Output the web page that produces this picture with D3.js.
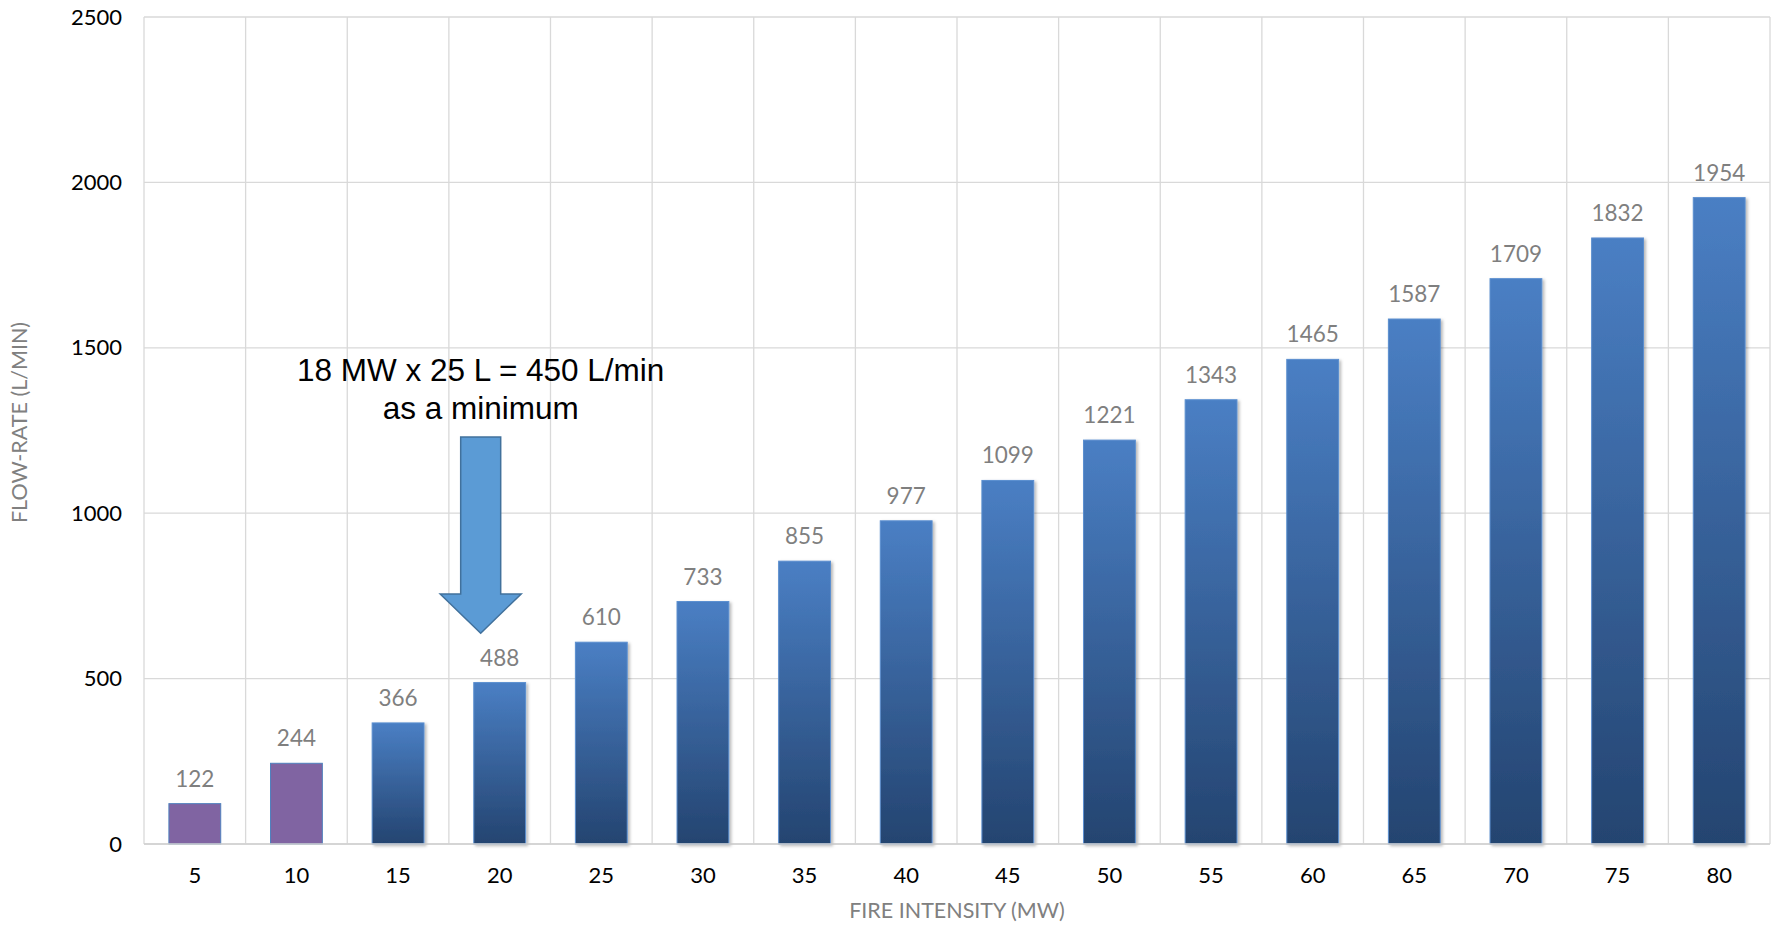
<!DOCTYPE html>
<html>
<head>
<meta charset="utf-8">
<script src="https://cdn.jsdelivr.net/npm/d3@7"></script>
<style>
  html, body { margin: 0; padding: 0; background: #fff; }
  svg { display: block; }
</style>
</head>
<body>
<svg id="chart" width="1779" height="926"></svg>
<script>
// ---- data ----
const categories = [5, 10, 15, 20, 25, 30, 35, 40, 45, 50, 55, 60, 65, 70, 75, 80];
const flowRates = [122, 244, 366, 488, 610, 733, 855, 977, 1099, 1221, 1343, 1465, 1587, 1709, 1832, 1954];
const highlighted = [5, 10];
const yTicks = [0, 500, 1000, 1500, 2000, 2500];
const xTitle = "FIRE INTENSITY (MW)";
const yTitle = "FLOW-RATE (L/MIN)";
const noteLines = ["18 MW x 25 L = 450 L/min", "as a minimum"];
// arrow annotation, in value units
const arrowTopValue = 1230, arrowHeadValue = 756, arrowTipValue = 637;

// ---- layout ----
const W = 1779, H = 926;
const m = { left: 144, top: 17, right: 9, bottom: 82 };
const svg = d3.select("#chart");
const FONT = "Lato, 'Open Sans', sans-serif";

const y = d3.scaleLinear().domain([0, 2500]).range([H - m.bottom, m.top]);
const cell = d3.scaleBand().domain(categories).range([m.left, W - m.right]).padding(0);
const x = d3.scaleBand().domain(categories).range([m.left, W - m.right])
  .paddingInner(0.49).paddingOuter(0.245);

const defs = svg.append("defs");
const grad = defs.append("linearGradient").attr("id", "barGrad")
  .attr("x1", 0).attr("y1", 0).attr("x2", 0).attr("y2", 1);
grad.append("stop").attr("offset", "0%").attr("stop-color", "#4a7fc4");
grad.append("stop").attr("offset", "100%").attr("stop-color", "#244470");
const filt = defs.append("filter").attr("id", "shadow")
  .attr("x", "-20%").attr("y", "-5%").attr("width", "150%").attr("height", "115%");
filt.append("feDropShadow").attr("dx", 2).attr("dy", 1.5).attr("stdDeviation", 1.6)
  .attr("flood-color", "#000").attr("flood-opacity", 0.28);

// ---- grid ----
const grid = svg.append("g");
grid.selectAll("line.h").data(yTicks).join("line")
  .attr("x1", m.left).attr("x2", W - m.right)
  .attr("y1", d => y(d)).attr("y2", d => y(d))
  .attr("stroke", "#d9d9d9").attr("stroke-width", 1.3);
const vb = categories.map(c => cell(c)).concat([cell(categories[categories.length - 1]) + cell.bandwidth()]);
grid.selectAll("line.v").data(vb).join("line")
  .attr("x1", d => d).attr("x2", d => d)
  .attr("y1", y(2500)).attr("y2", y(0))
  .attr("stroke", "#d9d9d9").attr("stroke-width", 1.3);

// ---- bars ----
const data = categories.map((c, i) => ({ c, v: flowRates[i] }));
svg.append("g").selectAll("rect").data(data).join("rect")
  .attr("x", d => x(d.c))
  .attr("y", d => y(d.v))
  .attr("width", x.bandwidth())
  .attr("height", d => y(0) - y(d.v))
  .attr("fill", d => highlighted.includes(d.c) ? "#8064a2" : "url(#barGrad)")
  .attr("stroke", d => highlighted.includes(d.c) ? "#4f81bd" : "#5b8fd0")
  .attr("stroke-width", 1)
  .attr("filter", d => highlighted.includes(d.c) ? null : "url(#shadow)");

// baseline
svg.append("line").attr("x1", m.left).attr("x2", W - m.right)
  .attr("y1", y(0)).attr("y2", y(0)).attr("stroke", "#d0d0d0").attr("stroke-width", 1.5);

// ---- data labels ----
svg.append("g").selectAll("text").data(data).join("text")
  .attr("x", d => x(d.c) + x.bandwidth() / 2)
  .attr("y", d => y(d.v) - 17)
  .attr("text-anchor", "middle")
  .attr("font-family", FONT)
  .attr("font-size", 22.5)
  .attr("fill", "#7f7f7f")
  .text(d => d.v);

// ---- axes ----
const yAxis = svg.append("g").attr("transform", `translate(${m.left - 22},0)`)
  .call(d3.axisLeft(y).tickValues(yTicks).tickFormat(d3.format("d")).tickSize(0).tickPadding(0));
yAxis.select(".domain").remove();
yAxis.selectAll("text").attr("font-family", FONT)
  .attr("font-size", 22).attr("fill", "#000");

const xAxis = svg.append("g").attr("transform", `translate(0,${y(0)})`)
  .call(d3.axisBottom(cell).tickSize(0).tickPadding(23));
xAxis.select(".domain").remove();
xAxis.selectAll("text").attr("font-family", FONT)
  .attr("font-size", 22).attr("fill", "#000");

svg.append("text")
  .attr("x", (m.left + W - m.right) / 2).attr("y", 918)
  .attr("text-anchor", "middle")
  .attr("font-family", FONT)
  .attr("font-size", 21.5).attr("fill", "#808080")
  .text(xTitle);

svg.append("text")
  .attr("transform", `translate(27,${(m.top + H - m.bottom) / 2 - 8}) rotate(-90)`)
  .attr("text-anchor", "middle")
  .attr("font-family", FONT)
  .attr("font-size", 21.5).attr("fill", "#808080")
  .text(yTitle);

// ---- annotation ----
const ax = x(20) + x.bandwidth() / 2 - 19;
const shaftHalf = 20, headHalf = 40.5;
const arrowPts = [
  [ax - shaftHalf, y(arrowTopValue)],
  [ax + shaftHalf, y(arrowTopValue)],
  [ax + shaftHalf, y(arrowHeadValue)],
  [ax + headHalf, y(arrowHeadValue)],
  [ax, y(arrowTipValue)],
  [ax - headHalf, y(arrowHeadValue)],
  [ax - shaftHalf, y(arrowHeadValue)]
];
svg.append("path")
  .attr("d", d3.line()(arrowPts) + "Z")
  .attr("fill", "#5b9bd5").attr("stroke", "#41719c").attr("stroke-width", 1.5);

svg.append("g").selectAll("text").data(noteLines).join("text")
  .attr("x", ax)
  .attr("y", (d, i) => 381 + i * 37.5)
  .attr("text-anchor", "middle")
  .attr("font-family", "'Liberation Sans', Arial, sans-serif")
  .attr("font-size", 31.5).attr("fill", "#000")
  .text(d => d);
</script>
</body>
</html>
